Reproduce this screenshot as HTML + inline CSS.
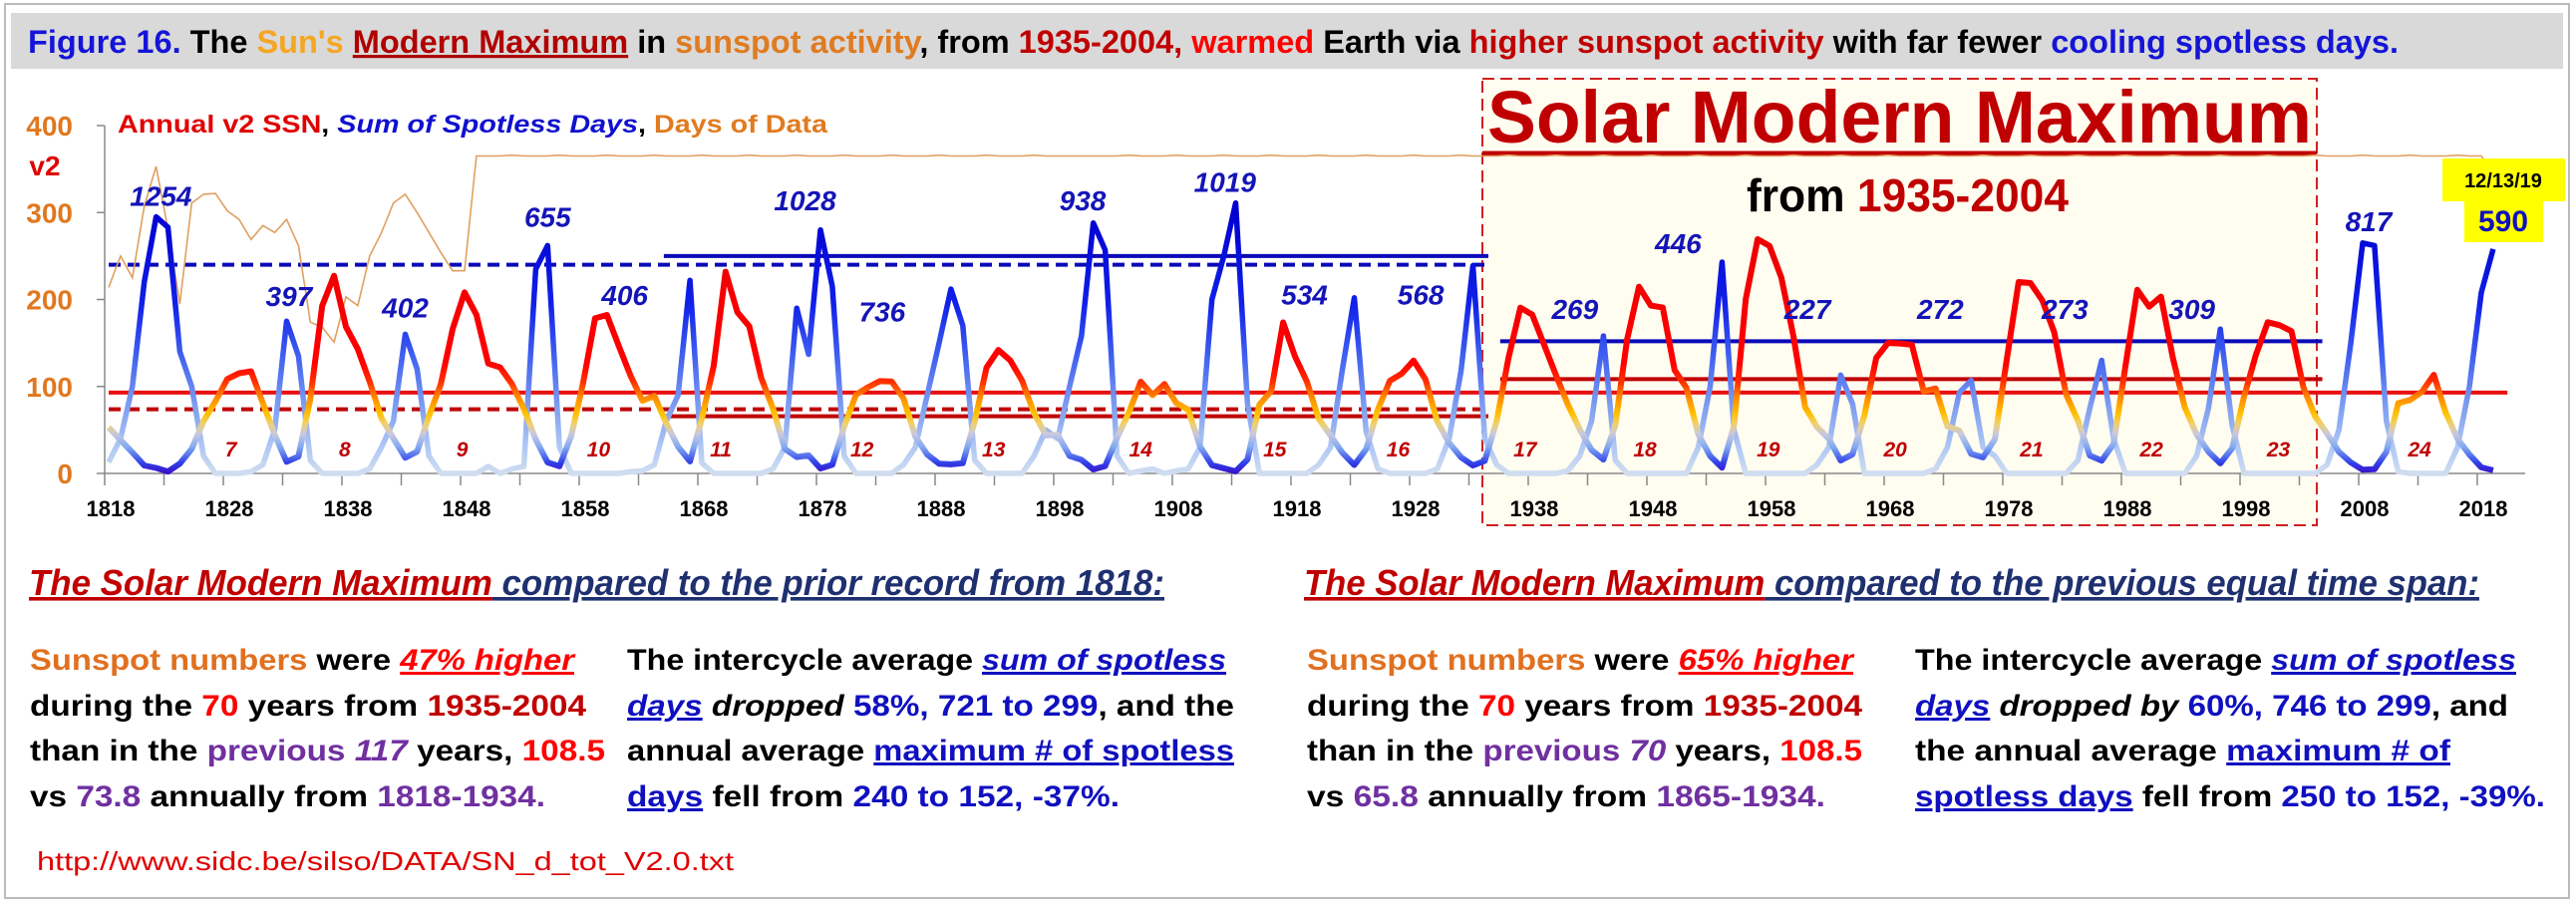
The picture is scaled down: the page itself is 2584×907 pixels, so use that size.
<!DOCTYPE html>
<html><head><meta charset="utf-8"><style>
html,body{margin:0;padding:0;background:#fff;}
svg{display:block;font-family:"Liberation Sans",sans-serif;}
</style></head><body>
<svg id="chart" width="2584" height="907" viewBox="0 0 2584 907" xmlns="http://www.w3.org/2000/svg">
<defs>
<linearGradient id="gSSN" gradientUnits="userSpaceOnUse" x1="0" y1="475" x2="0" y2="213.25">
<stop offset="0" stop-color="#3a10c8"/><stop offset="0.04" stop-color="#3040e8"/><stop offset="0.1" stop-color="#80a8f0"/><stop offset="0.15" stop-color="#c8c8e0"/><stop offset="0.19" stop-color="#f0d070"/><stop offset="0.23" stop-color="#ffc000"/><stop offset="0.29" stop-color="#ff8c00"/><stop offset="0.35" stop-color="#ff3000"/><stop offset="0.42" stop-color="#ff0000"/><stop offset="1" stop-color="#e80000"/>
</linearGradient>
<linearGradient id="gSP" gradientUnits="userSpaceOnUse" x1="0" y1="475" x2="0" y2="213.25">
<stop offset="0" stop-color="#d0ddf0"/><stop offset="0.1" stop-color="#b0c8f4"/><stop offset="0.25" stop-color="#80a0f0"/><stop offset="0.45" stop-color="#4060f0"/><stop offset="0.65" stop-color="#1020e8"/><stop offset="1" stop-color="#0000d0"/>
</linearGradient>
</defs>
<rect x="5" y="4" width="2572" height="897" fill="#fff" stroke="#bbb" stroke-width="2"/>
<rect x="11" y="13" width="2560" height="56" fill="#d9d9d9"/>
<text x="28" y="53" font-size="32" font-weight="bold" textLength="2378" lengthAdjust="spacingAndGlyphs"><tspan fill="#1515d8">Figure 16.</tspan><tspan fill="#000"> The </tspan><tspan fill="#f5a623">Sun's </tspan><tspan fill="#b00000" text-decoration="underline">Modern Maximum</tspan><tspan fill="#000"> in </tspan><tspan fill="#e07b20">sunspot activity</tspan><tspan fill="#000">, from </tspan><tspan fill="#c00000">1935-2004, </tspan><tspan fill="#ff0000">warmed</tspan><tspan fill="#000"> Earth via </tspan><tspan fill="#c00000">higher sunspot activity</tspan><tspan fill="#000"> with far fewer </tspan><tspan fill="#1515d8">cooling spotless days.</tspan></text>

<rect x="1487" y="79" width="837" height="448" fill="#fffcf0" stroke="#d02020" stroke-width="2" stroke-dasharray="12 6"/>
<text x="1492" y="143" font-size="74" font-weight="bold" fill="#c00000" textLength="827" lengthAdjust="spacingAndGlyphs">Solar Modern Maximum</text>
<line x1="1487" y1="154" x2="2324" y2="154" stroke="#c00000" stroke-width="5"/>
<text x="1752" y="212" font-size="46" font-weight="bold" textLength="323" lengthAdjust="spacingAndGlyphs"><tspan fill="#000">from </tspan><tspan fill="#c00000">1935-2004</tspan></text>

<text x="118" y="133" font-size="25" font-weight="bold" textLength="712" lengthAdjust="spacingAndGlyphs"><tspan fill="#e00000">Annual v2 SSN</tspan><tspan fill="#000">, </tspan><tspan fill="#1010d0" font-style="italic">Sum of Spotless Days</tspan><tspan fill="#000">, </tspan><tspan fill="#e07b20">Days of Data</tspan></text>
<text x="45" y="176" font-size="28" font-weight="bold" fill="#e00000" text-anchor="middle">v2</text>

<g id="axes"></g>
<g id="refs"></g>
<g id="series"></g>
<g id="labels"></g>

<rect x="2450" y="159" width="123" height="43" fill="#ffff00"/>
<rect x="2472" y="201" width="79" height="42" fill="#ffff00"/>
<text x="2511" y="188" font-size="20" font-weight="bold" fill="#000" text-anchor="middle">12/13/19</text>
<text x="2511" y="232" font-size="30" font-weight="bold" fill="#1010c0" text-anchor="middle">590</text>

<!-- Bottom text left -->
<text x="29" y="597" font-size="36" font-weight="bold" font-style="italic" textLength="1139" lengthAdjust="spacingAndGlyphs"><tspan fill="#c00000" text-decoration="underline">The Solar Modern Maximum</tspan><tspan fill="#1f3070" text-decoration="underline"> compared to the prior record from 1818:</tspan></text>
<g font-size="30" font-weight="bold">
<text x="30" y="672" textLength="546" lengthAdjust="spacingAndGlyphs"><tspan fill="#e07020">Sunspot numbers</tspan><tspan fill="#000"> were </tspan><tspan fill="#ff0000" font-style="italic" text-decoration="underline">47% higher</tspan></text>
<text x="30" y="718" textLength="558" lengthAdjust="spacingAndGlyphs"><tspan fill="#000">during the </tspan><tspan fill="#ff0000">70</tspan><tspan fill="#000"> years from </tspan><tspan fill="#c00000">1935-2004</tspan></text>
<text x="30" y="763" textLength="577" lengthAdjust="spacingAndGlyphs"><tspan fill="#000">than in the </tspan><tspan fill="#7030a0">previous </tspan><tspan fill="#7030a0" font-style="italic">117</tspan><tspan fill="#000"> years, </tspan><tspan fill="#ff0000">108.5</tspan></text>
<text x="30" y="809" textLength="517" lengthAdjust="spacingAndGlyphs"><tspan fill="#000">vs </tspan><tspan fill="#7030a0">73.8</tspan><tspan fill="#000"> annually from </tspan><tspan fill="#7030a0">1818-1934.</tspan></text>
<text x="629" y="672" textLength="601" lengthAdjust="spacingAndGlyphs"><tspan fill="#000">The intercycle average </tspan><tspan fill="#1010c0" font-style="italic" text-decoration="underline">sum of spotless</tspan></text>
<text x="629" y="718" textLength="609" lengthAdjust="spacingAndGlyphs"><tspan fill="#1010c0" font-style="italic" text-decoration="underline">days</tspan><tspan fill="#000" font-style="italic"> dropped </tspan><tspan fill="#1010c0">58%, 721 to 299</tspan><tspan fill="#000">, and the</tspan></text>
<text x="629" y="763" textLength="609" lengthAdjust="spacingAndGlyphs"><tspan fill="#000">annual average </tspan><tspan fill="#1010c0" text-decoration="underline">maximum # of spotless</tspan></text>
<text x="629" y="809" textLength="494" lengthAdjust="spacingAndGlyphs"><tspan fill="#1010c0" text-decoration="underline">days</tspan><tspan fill="#000"> fell from </tspan><tspan fill="#1010c0">240 to 152, -37%.</tspan></text>
</g>
<text x="37" y="873" font-size="26" fill="#e00000" textLength="699" lengthAdjust="spacingAndGlyphs">http://www.sidc.be/silso/DATA/SN_d_tot_V2.0.txt</text>

<!-- Bottom text right -->
<text x="1308" y="597" font-size="36" font-weight="bold" font-style="italic" textLength="1179" lengthAdjust="spacingAndGlyphs"><tspan fill="#c00000" text-decoration="underline">The Solar Modern Maximum</tspan><tspan fill="#1f3070" text-decoration="underline"> compared to the previous equal time span:</tspan></text>
<g font-size="30" font-weight="bold">
<text x="1311" y="672" textLength="548" lengthAdjust="spacingAndGlyphs"><tspan fill="#e07020">Sunspot numbers</tspan><tspan fill="#000"> were </tspan><tspan fill="#ff0000" font-style="italic" text-decoration="underline">65% higher</tspan></text>
<text x="1311" y="718" textLength="557" lengthAdjust="spacingAndGlyphs"><tspan fill="#000">during the </tspan><tspan fill="#ff0000">70</tspan><tspan fill="#000"> years from </tspan><tspan fill="#c00000">1935-2004</tspan></text>
<text x="1311" y="763" textLength="557" lengthAdjust="spacingAndGlyphs"><tspan fill="#000">than in the </tspan><tspan fill="#7030a0">previous </tspan><tspan fill="#7030a0" font-style="italic">70</tspan><tspan fill="#000"> years, </tspan><tspan fill="#ff0000">108.5</tspan></text>
<text x="1311" y="809" textLength="520" lengthAdjust="spacingAndGlyphs"><tspan fill="#000">vs </tspan><tspan fill="#7030a0">65.8</tspan><tspan fill="#000"> annually from </tspan><tspan fill="#7030a0">1865-1934.</tspan></text>
<text x="1921" y="672" textLength="603" lengthAdjust="spacingAndGlyphs"><tspan fill="#000">The intercycle average </tspan><tspan fill="#1010c0" font-style="italic" text-decoration="underline">sum of spotless</tspan></text>
<text x="1921" y="718" textLength="595" lengthAdjust="spacingAndGlyphs"><tspan fill="#1010c0" font-style="italic" text-decoration="underline">days</tspan><tspan fill="#000" font-style="italic"> dropped by </tspan><tspan fill="#1010c0">60%, 746 to 299</tspan><tspan fill="#000">, and</tspan></text>
<text x="1921" y="763" textLength="537" lengthAdjust="spacingAndGlyphs"><tspan fill="#000">the annual average </tspan><tspan fill="#1010c0" text-decoration="underline">maximum # of</tspan></text>
<text x="1921" y="809" textLength="632" lengthAdjust="spacingAndGlyphs"><tspan fill="#1010c0" text-decoration="underline">spotless days</tspan><tspan fill="#000"> fell from </tspan><tspan fill="#1010c0">250 to 152, -39%.</tspan></text>
</g>
</svg>
<script>
const startYear = 1818;
const ssn = [52.9,38.5,24.2,9.2,6.3,2.2,11.4,28.2,59.9,83.0,
108.5,115.2,117.4,80.8,44.3,13.4,19.5,85.8,192.7,227.3,
168.7,143.0,105.5,63.3,40.3,18.1,25.1,65.8,102.7,166.3,
208.3,182.5,126.3,122.0,102.7,74.1,39.0,12.7,8.2,43.4,
104.4,178.3,182.2,146.6,112.1,83.5,89.3,57.8,30.7,13.9,
62.8,123.6,232.0,185.3,169.2,110.1,74.5,28.3,18.9,20.7,
5.7,10.0,53.7,90.5,99.0,106.1,105.8,86.3,42.4,21.8,
11.2,10.4,11.8,59.5,121.7,142.0,130.0,106.6,69.4,43.8,
44.4,20.2,15.7,4.6,8.5,40.8,70.1,105.5,90.1,102.8,
80.9,73.2,30.9,9.5,6.0,2.4,16.1,79.0,95.0,173.6,
134.6,105.7,62.7,43.5,23.7,9.7,27.9,74.0,106.5,114.7,
129.7,108.2,59.4,35.1,18.6,9.2,14.6,60.2,132.8,190.6,
182.6,148.0,113.0,79.2,50.8,27.1,16.1,55.3,154.3,214.7,
193.0,190.7,118.9,98.3,45.0,20.1,6.6,54.2,200.7,269.3,
261.7,225.1,159.0,76.4,53.4,39.9,15.0,22.0,66.8,132.9,
150.2,149.4,148.0,94.4,97.6,54.1,49.2,22.5,18.4,39.3,
131.0,220.1,218.9,198.9,162.4,91.0,60.5,20.6,14.8,33.9,
123.0,211.1,191.8,203.3,133.0,76.1,44.9,25.1,11.6,28.9,
88.3,136.3,173.9,170.4,163.6,99.3,65.3,45.8,24.7,12.6,
4.2,4.8,24.9,80.8,84.5,94.0,113.3,69.8,39.8,21.7,
7.0,3.6];
const spotless = [13,40,100,220,295,283,140,100,20,0,
0,0,2,10,50,175,135,15,0,0,
0,0,5,30,60,160,120,20,0,0,
0,0,8,0,5,8,235,262,30,0,
0,0,0,0,2,3,10,60,90,222,
12,0,0,0,0,0,5,30,190,137,
280,215,20,0,0,0,0,10,30,90,
150,212,170,15,0,0,0,0,20,50,
40,100,158,288,257,20,0,3,5,0,
3,5,30,200,250,311,80,0,0,0,
0,0,10,30,120,202,48,5,0,0,
0,0,5,40,118,239,40,10,0,0,
0,0,0,3,20,60,158,15,0,0,
0,0,0,0,30,100,243,50,0,0,
0,0,0,0,10,30,113,80,0,0,
0,0,0,0,5,30,93,107,30,20,
0,0,0,0,0,0,15,75,130,40,
0,0,0,0,0,0,20,75,166,55,
0,0,0,0,0,0,0,10,50,150,
265,262,60,2,0,0,0,0,30,100,
208,258];
const daysOfData = [214,250,225,307,353,281,195,311,321,322,
302,292,269,285,277,292,262,174,168,151,
203,193,250,277,311,321,300,277,254,233,
233,365,
365,365,366,365,365,365,366,365,365,365,
366,365,365,365,366,365,365,365,366,365,
365,365,366,365,365,365,366,365,365,365,
366,365,365,365,366,365,365,365,366,365,
365,365,366,365,365,365,366,365,365,365,
365,365,365,365,366,365,365,365,366,365,
365,365,366,365,365,365,366,365,365,365,
366,365,365,365,366,365,365,365,366,365,
365,365,366,365,365,365,366,365,365,365,
366,365,365,365,366,365,365,365,366,365,
365,365,366,365,365,365,366,365,365,365,
366,365,365,365,366,365,365,365,366,365,
365,365,366,365,365,365,366,365,365,365,
366,365,365,365,366,365,365,365,366,365,
365,365,366,365,365,365,366,365,365,365,
366,365,365,365,366,365,365,365,366,365,
365,365,366,365,365,365,366,365,365,347];
const yTicks = [0,100,200,300,400];
const xLabelYears = [1818,1828,1838,1848,1858,1868,1878,1888,1898,1908,1918,1928,1938,1948,1958,1968,1978,1988,1998,2008,2018];
const cycleNums = [7,8,9,10,11,12,13,14,15,16,17,18,19,20,21,22,23,24];
const cycleYears = [1828.3,1837.9,1847.8,1859.3,1869.6,1881.5,1892.6,1905,1916.3,1926.7,1937.4,1947.5,1957.9,1968.6,1980.1,1990.2,2000.9,2012.8];
const sumLabels = ["1254","397","402","655","406","1028","736","938","1019","534","568","269","446","227","272","273","309","817"];
const sumLabelYears = [1822.4,1833.2,1843,1855,1861.5,1876.7,1883.2,1900.1,1912.1,1918.8,1928.6,1941.6,1950.3,1961.2,1972.4,1982.9,1993.6,2008.5];
const sumLabelValues = [319,204,191,295,205,314,186,314,335,206,206,189,265,189,189,189,189,290];
const refLines = [
 {name:'spotless-max-1818-1934', v:240, y0:1818, y1:1934.3, c:'#0a0ab8', dash:'12 7'},
 {name:'spotless-max-1865-1934', v:250, y0:1864.8, y1:1934.3, c:'#0a0ab8', dash:''},
 {name:'spotless-max-1935-2004', v:152, y0:1935.3, y1:2004.6, c:'#0a0ab8', dash:''},
 {name:'ssn-average-overall', v:93, y0:1818, y1:2020.2, c:'#e81010', dash:''},
 {name:'ssn-average-1818-1934', v:73.8, y0:1818, y1:1934.3, c:'#c00000', dash:'12 7'},
 {name:'ssn-average-1865-1934', v:65.8, y0:1864.8, y1:1934.3, c:'#c00000', dash:''},
 {name:'ssn-average-1935-2004', v:108.5, y0:1935.3, y1:2004.6, c:'#c00000', dash:''}
];
const NS = 'http://www.w3.org/2000/svg';
function yScale(v){ return 475 - v*0.8725; }
function tickX(yr){ return 105 + (yr-1818)*11.9; }
function dataX(yr){ return 109 + (yr-1818)*11.9; }
function mk(tag, attrs, parent){ const e=document.createElementNS(NS,tag); for(const k in attrs) e.setAttribute(k,attrs[k]); parent.appendChild(e); return e; }
const axes=document.getElementById('axes'), refs=document.getElementById('refs'), series=document.getElementById('series'), labels=document.getElementById('labels');

let ax = mk('line',{x1:105,y1:126,x2:105,y2:475,stroke:'#888','stroke-width':1.5},axes);


let bx = mk('line',{x1:105,y1:475,x2:2533,y2:475,stroke:'#888','stroke-width':1.5},axes);


yTicks.forEach(v=>{
  const t=mk('line',{x1:97,y1:yScale(v),x2:105,y2:yScale(v),stroke:'#888','stroke-width':1.5},axes);
  
  
  const l=mk('text',{x:73,y:yScale(v)+10,'font-size':28,'font-weight':'bold',fill:'#e07820','text-anchor':'end'},axes);
  l.textContent=v;
  
  
});
for(let yr=1818; yr<=2020; yr+=5){
  const t=mk('line',{x1:tickX(yr),y1:475,x2:tickX(yr),y2:487,stroke:'#888','stroke-width':1.5},axes);
  
  
}
xLabelYears.forEach(yr=>{
  const l=mk('text',{x:tickX(yr)+6,y:518,'font-size':22,'font-weight':'bold',fill:'#000','text-anchor':'middle'},axes);
  l.textContent=yr;
  
  
});
refLines.forEach(r=>{
  const a={x1:dataX(r.y0),y1:yScale(r.v),x2:dataX(r.y1),y2:yScale(r.v),stroke:r.c,'stroke-width':4};
  if(r.dash) a['stroke-dasharray']=r.dash;
  const l=mk('line',a,refs);
  
  
});
function pathFor(arr){ return arr.map((v,i)=>(i?'L':'M')+dataX(startYear+i).toFixed(1)+','+yScale(v).toFixed(1)).join(' '); }
const dd=mk('path',{d:pathFor(daysOfData),fill:'none',stroke:'#e0a060','stroke-width':1.6},series);


const sp=mk('path',{d:pathFor(spotless),fill:'none',stroke:'url(#gSP)','stroke-width':5.5,'stroke-linejoin':'round'},series);


const ss=mk('path',{d:pathFor(ssn),fill:'none',stroke:'url(#gSSN)','stroke-width':6,'stroke-linejoin':'round'},series);


cycleNums.forEach((n,i)=>{
  const l=mk('text',{x:dataX(cycleYears[i]),y:458,'font-size':21,'font-weight':'bold','font-style':'italic',fill:'#c00000','text-anchor':'middle'},labels);
  l.textContent=n;
  
  
});
sumLabels.forEach((s,i)=>{
  const l=mk('text',{x:dataX(sumLabelYears[i]),y:yScale(sumLabelValues[i])+10,'font-size':28,'font-weight':'bold','font-style':'italic',fill:'#1414b8','text-anchor':'middle'},labels);
  l.textContent=s;
  
  
});
</script>
</body></html>
